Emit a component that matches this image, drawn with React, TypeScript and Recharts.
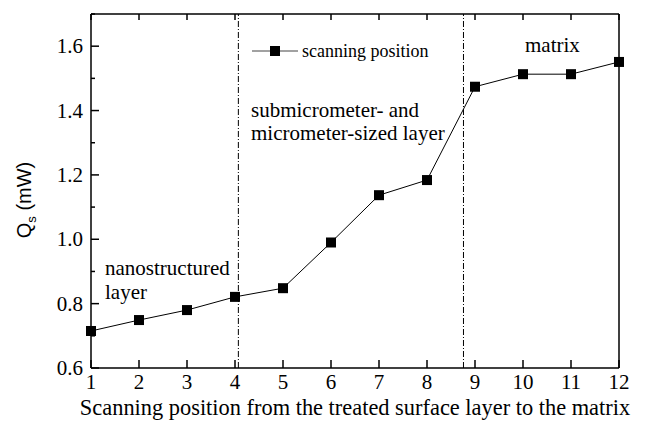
import { LineChart, Line, XAxis, YAxis, ReferenceLine } from "recharts";

const positions = [1, 2, 3, 4, 5, 6, 7, 8, 9, 10, 11, 12];
const qsValues = [0.715, 0.749, 0.78, 0.821, 0.848, 0.99, 1.137, 1.184, 1.474, 1.513, 1.513, 1.551];
const xTicks = [1, 2, 3, 4, 5, 6, 7, 8, 9, 10, 11, 12];
const yTicks = [0.6, 0.7, 0.8, 0.9, 1.0, 1.1, 1.2, 1.3, 1.4, 1.5, 1.6, 1.7];
const yMajor = [0.6, 0.8, 1.0, 1.2, 1.4, 1.6];
const layerBounds = [4.07, 8.76];

const data = positions.map((p, i) => ({ pos: p, qs: qsValues[i] }));

const serif = { fontFamily: "Liberation Serif", fill: "#000" };
const sans = { fontFamily: "Liberation Sans", fill: "#000" };
const isMajor = (v: number) => yMajor.some((m) => Math.abs(m - v) < 1e-6);

const LeftTick = (props: any) => {
  const { x, y, payload } = props;
  const axisX = x + 8;
  const major = isMajor(payload.value);
  return (
    <g>
      <line x1={axisX} x2={axisX + (major ? 8 : 4)} y1={y} y2={y} stroke="#000" strokeWidth={1.5} />
      {major && (
        <text x={x} y={y + 7} textAnchor="end" fontSize={21} style={serif}>
          {payload.value.toFixed(1)}
        </text>
      )}
    </g>
  );
};

const RightTick = (props: any) => {
  const { x, y, payload } = props;
  const major = isMajor(payload.value);
  return <line x1={x} x2={x - (major ? 8 : 4)} y1={y} y2={y} stroke="#000" strokeWidth={1.5} />;
};

const BottomTick = (props: any) => {
  const { x, y, payload } = props;
  return (
    <g>
      <line x1={x} x2={x} y1={y} y2={y - 8} stroke="#000" strokeWidth={1.5} />
      <text x={x} y={y + 21} textAnchor="middle" fontSize={21} style={serif}>
        {payload.value}
      </text>
    </g>
  );
};

const TopTick = (props: any) => {
  const { x, y } = props;
  return <line x1={x} x2={x} y1={y} y2={y + 6} stroke="#000" strokeWidth={1.5} />;
};

const SquareDot = (props: any) => {
  const { cx, cy } = props;
  if (cx == null || cy == null) return null;
  return <rect x={cx - 5} y={cy - 5} width={10} height={10} fill="#000" />;
};

export default function App() {
  return (
    <div style={{ position: "absolute", left: 0, top: 0, width: 648, height: 422, background: "#fff" }}>
      <LineChart width={648} height={422} data={data} margin={{ top: 0, right: 0, bottom: 0, left: 0 }}>
        <XAxis
          xAxisId="bottom"
          dataKey="pos"
          type="number"
          domain={[1, 12]}
          ticks={xTicks}
          height={54}
          tickSize={0}
          tickMargin={0}
          tick={<BottomTick />}
          tickLine={false}
          axisLine={{ stroke: "#000", strokeWidth: 1.5 }}
        />
        <XAxis
          xAxisId="top"
          orientation="top"
          dataKey="pos"
          type="number"
          domain={[1, 12]}
          ticks={xTicks}
          height={14}
          tickSize={0}
          tickMargin={0}
          tick={<TopTick />}
          tickLine={false}
          axisLine={{ stroke: "#000", strokeWidth: 1.5 }}
        />
        <YAxis
          yAxisId="left"
          type="number"
          domain={[0.6, 1.7]}
          ticks={yTicks}
          width={91}
          tickSize={0}
          tickMargin={8}
          tick={<LeftTick />}
          tickLine={false}
          axisLine={{ stroke: "#000", strokeWidth: 1.5 }}
        />
        <YAxis
          yAxisId="right"
          orientation="right"
          type="number"
          domain={[0.6, 1.7]}
          ticks={yTicks}
          width={29}
          tickSize={0}
          tickMargin={0}
          tick={<RightTick />}
          tickLine={false}
          axisLine={{ stroke: "#000", strokeWidth: 1.5 }}
        />
        {layerBounds.map((b) => (
          <ReferenceLine
            key={b}
            x={b}
            xAxisId="bottom"
            yAxisId="left"
            stroke="#000"
            strokeWidth={1}
            strokeDasharray="6 2 1 2"
          />
        ))}
        <Line
          xAxisId="bottom"
          yAxisId="left"
          dataKey="qs"
          stroke="#000"
          strokeWidth={1}
          dot={<SquareDot />}
          activeDot={false}
          isAnimationActive={false}
        />
      </LineChart>
      <svg width={648} height={422} style={{ position: "absolute", left: 0, top: 0, pointerEvents: "none" }}>
        <g fontSize={21}>
          <text x={105} y={275} style={serif}>nanostructured</text>
          <text x={105} y={299} style={serif}>layer</text>
          <text x={251} y={117} style={serif}>submicrometer- and</text>
          <text x={251} y={140} style={serif}>micrometer-sized layer</text>
          <text x={525} y={52} style={serif}>matrix</text>
        </g>
        <text x={355} y={414.5} textAnchor="middle" fontSize={22.4} style={serif}>
          Scanning position from the treated surface layer to the matrix
        </text>
        <g>
          <line x1={252} x2={298} y1={51} y2={51} stroke="#444" strokeWidth={1.2} />
          <rect x={270} y={46} width={10} height={10} fill="#000" />
          <text x={302} y={57} fontSize={18} style={serif}>scanning position</text>
        </g>
        <text transform="translate(31, 200) rotate(-90)" textAnchor="middle" fontSize={20} style={sans}>
          Q<tspan fontSize={13} dy={5}>s</tspan>
          <tspan dy={-5}> (mW)</tspan>
        </text>
      </svg>
    </div>
  );
}
